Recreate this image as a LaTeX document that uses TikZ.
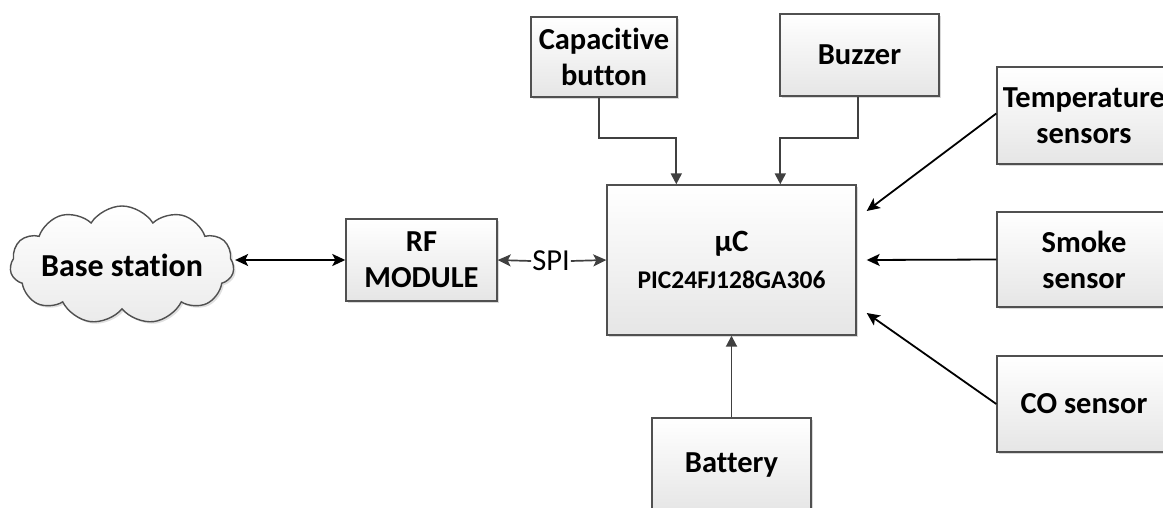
\documentclass[tikz,border=0pt]{standalone}
\usepackage{fontspec}
\setmainfont{Carlito}[Ligatures=NoCommon]
\usetikzlibrary{arrows.meta,shapes.symbols,shadows}
\definecolor{edgegray}{HTML}{505050}
\definecolor{conngray}{HTML}{404040}
\tikzset{
  blk/.style={draw=edgegray, line width=1.4pt, top color=white, bottom color=black!10,
    drop shadow={shadow xshift=2pt, shadow yshift=-2pt, fill=black!25, opacity=0.6},
    inner sep=0pt, align=center, font=\fontsize{30.5}{36}\selectfont\bfseries},
  conn/.style={draw=conngray, line width=1.9pt, -{Triangle[length=11pt,width=11pt]}},
  blkarrow/.style={draw=black, line width=1.8pt, -{Stealth[length=13pt,width=12pt,inset=3pt]}},
  spiarrow/.style={draw=conngray, line width=1.7pt, -{Stealth[length=13pt,width=12pt,inset=3pt]}},
}
\begin{document}
\begin{tikzpicture}[x=1pt,y=-1pt]
\useasboundingbox (0,0) rectangle (1163,508);
\clip (0,0) rectangle (1163,508);
% cloud
\node[cloud, cloud puffs=11, cloud puff arc=115, aspect=2.1, draw=edgegray, line width=1.4pt,
  top color=white, bottom color=black!8, minimum width=224pt, minimum height=118pt,
  inner sep=0pt, font=\fontsize{32}{38}\selectfont\bfseries,
  drop shadow={shadow xshift=2pt, shadow yshift=-2pt, fill=black!20, opacity=0.6}]
  (base) at (122,265) {\makebox[110pt][c]{Base station}};
% boxes
\node[blk, minimum width=151pt, minimum height=82pt] (rf) at (421.5,260) {RF\\MODULE};
\node[blk, minimum width=249pt, minimum height=150pt] (uc) at (731.5,260)
  {\fontsize{31}{36}\selectfont μC\\[1pt]\fontsize{25.5}{30}\selectfont PIC24FJ128GA306};
\node[blk, minimum width=146pt, minimum height=80pt] (cap) at (604,57) {Capacitive\\button};
\node[blk, minimum width=159pt, minimum height=82pt] (buz) at (859.5,55) {Buzzer};
\node[blk, minimum width=174pt, minimum height=97pt] (temp) at (1084,115.5) {Temperature\\sensors};
\node[blk, minimum width=174pt, minimum height=95pt] (smoke) at (1084,259.5) {Smoke\\sensor};
\node[blk, minimum width=174pt, minimum height=96pt] (co) at (1084,404) {CO sensor};
\node[blk, minimum width=159pt, minimum height=95pt] (bat) at (731.5,465.5) {Battery};
\node[inner sep=1pt, font=\fontsize{30.5}{36}\selectfont] (spi) at (551,261) {SPI};
% connectors
\draw[blkarrow, {Stealth[length=13pt,width=12pt,inset=3pt]}-{Stealth[length=13pt,width=12pt,inset=3pt]}]
  ([xshift=1pt]base.east |- rf.west) -- (rf.west);
\draw[spiarrow] (spi.west) -- (rf.east);
\draw[spiarrow] (spi.east) -- (uc.west);
\draw[conn] ([xshift=-5pt]cap.south) -- ++(0,40) -| ([xshift=70pt]uc.north west);
\draw[conn] ([xshift=-1.5pt]buz.south) -- ++(0,41) -| ([xshift=174pt]uc.north west);
\draw[conn] (bat.north) -- (uc.south);
\draw[blkarrow] ([yshift=2pt]temp.west) -- ([shift={(10,-49)}]uc.east);
\draw[blkarrow] (smoke.west) -- ([xshift=10pt]uc.east);
\draw[blkarrow] (co.west) -- ([shift={(10,53)}]uc.east);
\end{tikzpicture}
\end{document}
